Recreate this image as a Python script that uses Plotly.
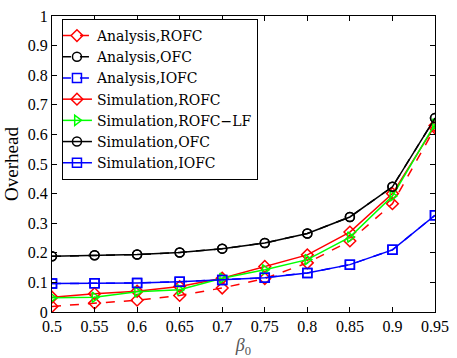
import plotly.graph_objects as go

beta0 = [0.5, 0.55, 0.6, 0.65, 0.7, 0.75, 0.8, 0.85, 0.9, 0.95]

ana_rofc = [0.019, 0.030, 0.040, 0.056, 0.081, 0.113, 0.166, 0.240, 0.366, 0.622]
ana_ofc  = [0.188, 0.192, 0.194, 0.201, 0.214, 0.233, 0.265, 0.321, 0.423, 0.655]
ana_iofc = [0.096, 0.097, 0.098, 0.102, 0.108, 0.116, 0.132, 0.160, 0.210, 0.327]
sim_rofc = [0.050, 0.062, 0.070, 0.086, 0.114, 0.154, 0.193, 0.270, 0.400, 0.630]
sim_rofc_lf = [0.048, 0.050, 0.068, 0.075, 0.114, 0.143, 0.177, 0.253, 0.392, 0.635]
sim_ofc  = [0.188, 0.192, 0.194, 0.201, 0.214, 0.233, 0.265, 0.321, 0.423, 0.655]
sim_iofc = [0.096, 0.097, 0.098, 0.102, 0.108, 0.116, 0.132, 0.160, 0.210, 0.327]

xticks = [0.5, 0.55, 0.6, 0.65, 0.7, 0.75, 0.8, 0.85, 0.9, 0.95]
xticklabels = ["0.5", "0.55", "0.6", "0.65", "0.7", "0.75", "0.8", "0.85", "0.9", "0.95"]
yticks = [0, 0.1, 0.2, 0.3, 0.4, 0.5, 0.6, 0.7, 0.8, 0.9, 1.0]
yticklabels = ["0", "0.1", "0.2", "0.3", "0.4", "0.5", "0.6", "0.7", "0.8", "0.9", "1"]

series = [
    ("Analysis,ROFC", ana_rofc, "#ff0000", "dash", "diamond-open"),
    ("Analysis,OFC", ana_ofc, "#000000", "dash", "circle-open"),
    ("Analysis,IOFC", ana_iofc, "#0000ff", "dash", "square-open"),
    ("Simulation,ROFC", sim_rofc, "#ff0000", "solid", "diamond-open"),
    ("Simulation,ROFC\u2212LF", sim_rofc_lf, "#00ff00", "solid", "triangle-right-open"),
    ("Simulation,OFC", sim_ofc, "#000000", "solid", "circle-open"),
    ("Simulation,IOFC", sim_iofc, "#0000ff", "solid", "square-open"),
]

fig = go.Figure()
for name, ys, color, dash, sym in series:
    fig.add_trace(go.Scatter(
        x=beta0, y=ys, name=name, mode="lines+markers",
        line=dict(color=color, width=1.5, dash=dash),
        marker=dict(symbol=sym, size=9, color=color, line=dict(width=1.5, color=color)),
    ))

font = "Liberation Serif, Times New Roman, serif"
legfont = "DejaVu Serif, Liberation Serif, serif"
fig.update_layout(
    width=457, height=358,
    margin=dict(l=52, r=14, t=8, b=45),
    paper_bgcolor="white", plot_bgcolor="white",
    font=dict(family=font, size=16, color="black"),
    showlegend=True,
    legend=dict(
        x=0.026, y=0.99, xanchor="left", yanchor="top",
        bgcolor="white", bordercolor="black", borderwidth=1,
        font=dict(family=legfont, size=14, color="black"),
        itemwidth=30, tracegroupgap=0, indentation=-6,
    ),
    xaxis=dict(
        range=[0.5, 0.95], tickvals=xticks, ticktext=xticklabels,
        ticks="inside", ticklen=5, tickwidth=1, tickcolor="black",
        showline=True, linecolor="black", linewidth=1, mirror="ticks",
        showgrid=False, zeroline=False,
        tickfont=dict(family=font, size=16),
        title=dict(text="<i>β</i><sub>0</sub>", font=dict(family=font, size=18, color="#555555"), standoff=2),
    ),
    yaxis=dict(
        range=[0, 1], tickvals=yticks, ticktext=yticklabels,
        ticks="inside", ticklen=5, tickwidth=1, tickcolor="black",
        showline=True, linecolor="black", linewidth=1, mirror="ticks",
        showgrid=False, zeroline=False,
        tickfont=dict(family=font, size=16),
        title=dict(text="Overhead", font=dict(family=font, size=19), standoff=4),
    ),
)

fig.write_html("out.html")
